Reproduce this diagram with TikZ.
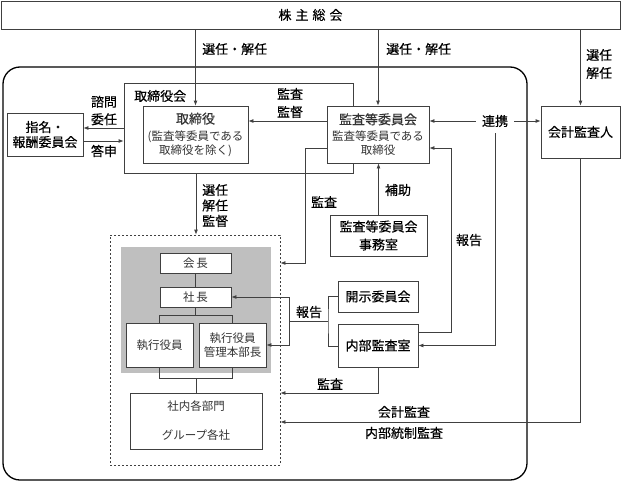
\documentclass[tikz,border=0pt]{standalone}
\usepackage{fontspec}
\setmainfont{Noto Sans CJK JP}
\newfontfamily\gothfam{Noto Sans CJK JP}[FakeBold=0.4]
\usetikzlibrary{arrows.meta,calc}
\def\goth{\gothfam\fontsize{13}{17}\selectfont}
\def\minc{\fontsize{11.5}{14}\selectfont\color{black!80}}
\tikzset{
  orgbox/.style={draw=black!75, line width=0.8pt, fill=white, inner sep=1pt, align=center},
  link/.style={draw=black!75, line width=0.8pt},
  arr/.style={link, -{Latex[length=5pt,width=4pt]}},
  lbl/.style={inner sep=0pt, align=center, font=\goth},
}

\begin{document}
\begin{tikzpicture}[x=1pt, y=-1pt]
		%%%%% START %%%%%
		\useasboundingbox (0,0) rectangle (621,482);
		
		\draw[line width=1.3pt, rounded corners=17pt] (3,67) rectangle (527,480);
		
		\node[orgbox, minimum width=619, minimum height=28, font=\gothfam\fontsize{13}{17}\selectfont] (agm) at (310.5,15) {株\hspace{4pt}主\hspace{4pt}総\hspace{4pt}会};
		
		\node[orgbox, minimum width=229, minimum height=90] (board) at (238.5,128) {};
		\node[lbl, anchor=west] (boardlbl) at (134,96) {取締役会};
		\node[orgbox, minimum width=105, minimum height=57, font=\minc] (directors) at (195.5,134.5) {{\goth 取締役}\\[2.5pt](監査等委員である\\取締役を除く)};
		\node[orgbox, minimum width=76, minimum height=43, font=\gothfam\fontsize{13}{15}\selectfont] (nom) at (45,134.5) {指名・\\報酬委員会};
		\node[orgbox, minimum width=102, minimum height=57, font=\minc] (acc) at (378,134.5) {{\goth 監査等委員会}\\[2.5pt]監査等委員である\\取締役};
		\node[orgbox, minimum width=79, minimum height=52, font=\goth] (auditor) at (580.5,132) {会計監査人};
		\node[orgbox, minimum width=97, minimum height=41, font=\gothfam\fontsize{13}{18}\selectfont] (office) at (378.5,235.5) {監査等委員会\\事務室};
		
		\node[draw=black!75, line width=0.8pt, dash pattern=on 2pt off 2pt, minimum width=170, minimum height=230] (exec) at (195,350) {};
		\fill[black!25] (121,247) rectangle (271,373);
		\node[orgbox, minimum width=71, minimum height=20, font=\minc] (chair) at (195.5,263) {会\,長};
		\node[orgbox, minimum width=71, minimum height=20, font=\minc] (pres) at (195.5,297) {社\,長};
		\node[orgbox, minimum width=67, minimum height=44, font=\minc] (officers) at (159.5,345) {執行役員};
		\node[orgbox, minimum width=67, minimum height=44, font=\minc] (mgr) at (232.5,345) {執行役員\\管理本部長};
		\node[orgbox, minimum width=132, minimum height=56, font=\fontsize{11.5}{29}\selectfont\color{black!80}] (depts) at (196,421) {社内各部門\\グループ各社};
		
		\node[orgbox, minimum width=80, minimum height=31, font=\goth] (disclosure) at (378,296.5) {開示委員会};
		\node[orgbox, minimum width=80, minimum height=43, font=\goth] (internal) at (378,345.5) {内部監査室};
		
		% shareholders
		\draw[arr] (agm.south -| directors.north) -- (directors.north);
		\draw[arr] (agm.south -| acc.north) -- (acc.north);
		\draw[arr] (agm.south -| auditor.north) -- (auditor.north);
		\node[lbl, anchor=west] (elect1) at (202,49) {選任・解任};
		\node[lbl, anchor=west] (elect2) at (386,49) {選任・解任};
		\node[lbl, anchor=west, font=\gothfam\fontsize{13}{18}\selectfont] (elect3) at (586,64) {選任\\解任};
		
		% board
		\draw[arr] (board.west |- 0,128) -- (nom.east |- 0,128);
		\draw[arr] (nom.east |- 0,141) -- (board.west |- 0,141);
		\node[lbl, font=\gothfam\fontsize{13}{17.5}\selectfont] (consult) at (104,110.5) {諮問\\委任};
		\node[lbl] (answer) at (104,151) {答申};
		\draw[arr] (acc.west |- 0,121) -- (directors.east |- 0,121);
		\node[lbl, font=\gothfam\fontsize{13}{18}\selectfont] (supervise) at (290,103) {監査\\監督};
		\draw[arr] (board.south -| 196,0) -- (exec.north -| 196,0);
		\node[lbl, anchor=west, font=\gothfam\fontsize{13}{15.5}\selectfont] (appoint) at (202,205.5) {選任\\解任\\監督};
		
		% audit committee
		\node[lbl, inner xsep=6pt, inner ysep=6pt] (renkei) at (495,121) {連携};
		\draw[arr] (renkei.west) -- (acc.east |- renkei.west);
		\draw[arr] (renkei.east) -- (auditor.west |- renkei.east);
		\draw[arr] (renkei.south) |- (internal.east);
		\draw[arr] (acc.west |- 0,148) -| (305,263) -- (exec.east |- 0,263);
		\node[lbl] (audit1) at (324,202) {監査};
		\draw[arr] (office.north) -- (office.north |- acc.south);
		\node[lbl] (assist) at (398,190) {補助};
		\draw[arr] (internal.east |- 0,332) -| (451,148) -- (acc.east |- 0,148);
		\node[lbl] (report1) at (469,240) {報告};
		
		% internal audit
		\draw[arr] (auditor.south) |- (exec.east |- 0,422);
		\node[lbl] (extaudit) at (404,412) {会計監査};
		\node[lbl] (icaudit) at (404,433) {内部統制監査};
		\draw[arr] (internal.south) |- (exec.east |- 0,393);
		\node[lbl] (audit2) at (330,384) {監査};
		\coordinate (repj) at (328,321);
		\coordinate (rep) at (289,321);
		\draw[link] (disclosure.west) -| (repj) |- (internal.west |- 0,346);
		\draw[link] (repj) -- (rep);
		\draw[arr] (rep) |- (pres.east);
		\draw[arr] (rep) |- (mgr.east);
		\node[lbl] (report2) at (309,312) {報告};
		
		% executives
		\draw[link] (chair.south) -- (pres.north);
		\draw[link] (pres.south) -- (pres.south |- 0,315);
		\draw[link] (officers.north) |- (mgr.north |- 0,315) -- (mgr.north);
		\draw[link] (officers.south) |- (mgr.south |- 0,378) -- (mgr.south);
		\draw[link] (depts.north) -- (depts.north |- 0,378);
		%%%%% END %%%%%
\end{tikzpicture}
\end{document}
